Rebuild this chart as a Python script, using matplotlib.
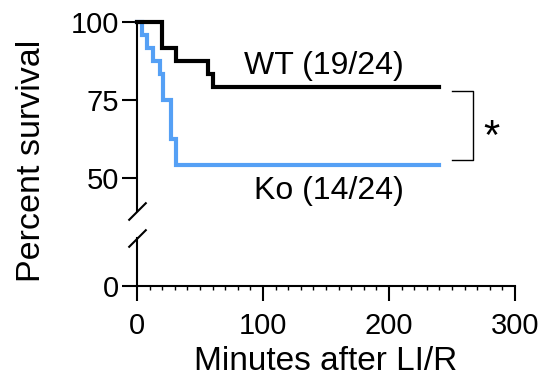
import matplotlib
matplotlib.use("Agg")
import matplotlib.pyplot as plt

plt.rcParams['font.family'] = ['Liberation Sans', 'DejaVu Sans']

# Kaplan-Meier steps
wt_time = [0, 20, 31, 56, 60, 240]
wt_surv = [100, 91.7, 87.5, 83.3, 79.2, 79.2]
ko_time = [0, 4, 8, 13, 18, 21, 27, 31, 240]
ko_surv = [100, 95.8, 91.7, 87.5, 83.3, 75.0, 62.5, 54.2, 54.2]

wt_label = "WT (19/24)"
ko_label = "Ko (14/24)"
x_ticks = [0, 100, 200, 300]
y_ticks_top = [50, 75, 100]
y_ticks_bot = [0]

fig = plt.figure(figsize=(5.49, 3.88), dpi=100)
ax = fig.add_axes([0.2495, 0.456, 0.6885, 0.4863])
axb = fig.add_axes([0.2495, 0.2629, 0.6885, 0.1237])

ax.step(ko_time, ko_surv, where='post', color='#55a0f5', lw=3, clip_on=False,
        solid_joinstyle='miter')
ax.step(wt_time, wt_surv, where='post', color='black', lw=3, clip_on=False,
        solid_joinstyle='miter')

for a in (ax, axb):
    a.set_xlim(0, 300)
    a.spines['right'].set_visible(False)
    a.spines['top'].set_visible(False)
    a.spines['left'].set_linewidth(1.5)
    a.spines['bottom'].set_linewidth(1.5)
    a.tick_params(axis='y', length=11, width=1.5, labelsize=21, pad=2)

ax.set_ylim(39.5, 100)
ax.set_yticks(y_ticks_top)
ax.spines['bottom'].set_visible(False)
ax.tick_params(axis='x', bottom=False, labelbottom=False)

axb.set_ylim(0, 15.4)
axb.set_yticks(y_ticks_bot)
axb.set_xticks(x_ticks)
axb.set_xticks(range(0, 301, 10), minor=True)
axb.tick_params(axis='x', which='major', length=11, width=1.5, labelsize=21, pad=8)
axb.tick_params(axis='x', which='minor', length=3, width=1)
axb.set_xlabel("Minutes after LI/R", fontsize=24, labelpad=4)

# break marks on the y axis
kw = dict(marker=[(-1, -1), (1, 1)], markersize=13, linestyle='none',
          color='black', mec='black', mew=1.5, clip_on=False)
ax.plot([0], [0], transform=ax.transAxes, **kw)
axb.plot([0], [1], transform=axb.transAxes, **kw)

fig.text(0.057, 0.585, "Percent survival", rotation=90, fontsize=24.5,
         ha='center', va='center')

ax.text(148, 86, wt_label, fontsize=23, ha='center', va='center')
ax.text(152, 46, ko_label, fontsize=23, ha='center', va='center')

# significance bracket
ax.plot([250, 267, 267, 250], [78.0, 78.0, 55.9, 55.9], color='black', lw=1,
        clip_on=False)
ax.text(281, 63, "*", fontsize=30, ha='center', va='center')

fig.savefig("out.png", dpi=100)
